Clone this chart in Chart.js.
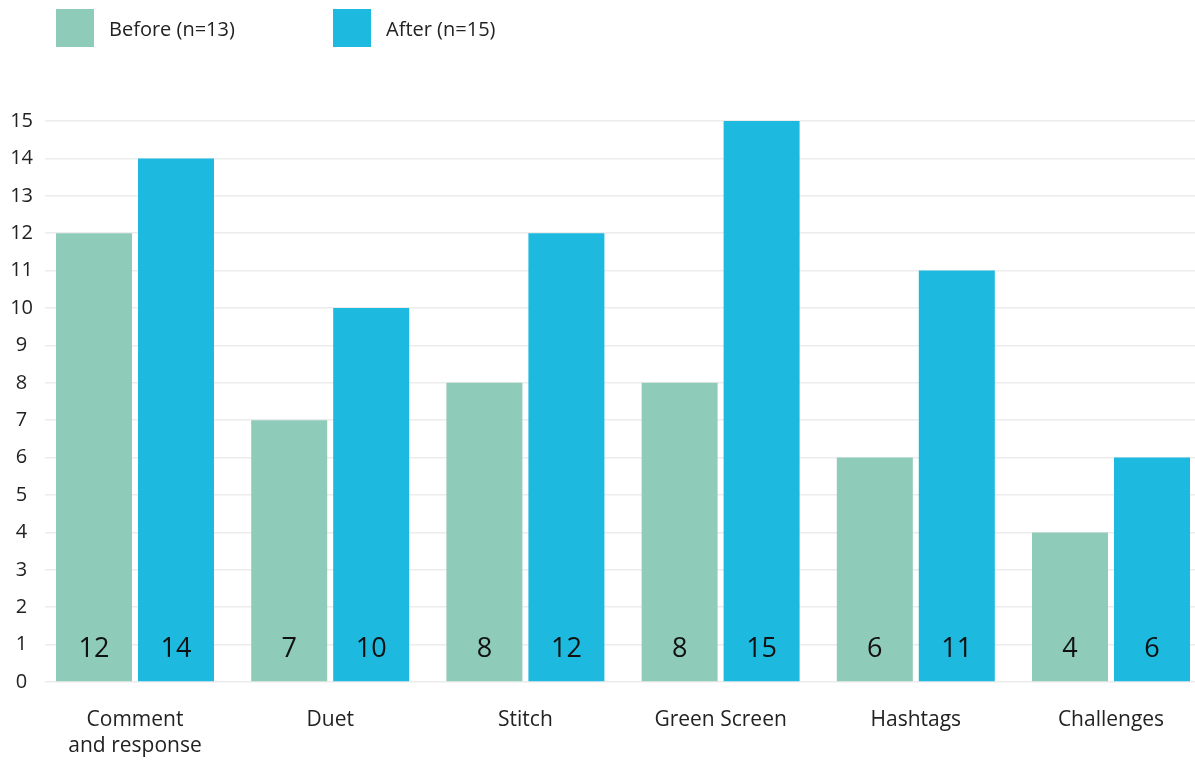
<!DOCTYPE html>
<html>
<head>
<meta charset="utf-8">
<script src="https://cdn.jsdelivr.net/npm/chart.js@4"></script>
<style>
  html, body { margin: 0; padding: 0; background: #ffffff; }
  #wrap { position: relative; width: 1195px; height: 760px; }
  #legend { position: absolute; left: 0; top: 0; width: 1195px; height: 60px; font-family: "Open Sans", sans-serif; font-size: 20px; color: #222; }
  .item { position: absolute; top: 9px; height: 38px; display: flex; align-items: center; }
  .box { width: 38px; height: 38px; margin-right: 15px; }
  canvas { position: absolute; left: 0; top: 0; }
</style>
</head>
<body>
<div id="wrap">
  <canvas id="c" width="1195" height="760"></canvas>
  <div id="legend"></div>
</div>
<script>
const categories = ["Comment\nand response", "Duet", "Stitch", "Green Screen", "Hashtags", "Challenges"];
const seriesNames = ["Before (n=13)", "After (n=15)"];
const beforeValues = [12, 7, 8, 8, 6, 4];
const afterValues = [14, 10, 12, 15, 11, 6];
const yTicks = [0, 1, 2, 3, 4, 5, 6, 7, 8, 9, 10, 11, 12, 13, 14, 15];
const colors = ["#8ecbb8", "#1db9df"];

const FONT = '"Open Sans", sans-serif';

// HTML legend built from series names / colours
const legendEl = document.getElementById('legend');
const legendLeft = [56, 333];
seriesNames.forEach((name, i) => {
  const it = document.createElement('div');
  it.className = 'item';
  it.style.left = legendLeft[i] + 'px';
  const b = document.createElement('div');
  b.className = 'box';
  b.style.background = colors[i];
  const t = document.createElement('span');
  t.textContent = name;
  it.appendChild(b); it.appendChild(t);
  legendEl.appendChild(it);
});

const valueLabels = {
  id: 'valueLabels',
  afterDatasetsDraw(chart) {
    const ctx = chart.ctx;
    ctx.save();
    ctx.font = '27px ' + FONT;
    ctx.fillStyle = '#111';
    ctx.textAlign = 'center';
    ctx.textBaseline = 'middle';
    chart.data.datasets.forEach((ds, di) => {
      const meta = chart.getDatasetMeta(di);
      meta.data.forEach((el, i) => {
        ctx.fillText(String(ds.data[i].y), el.x, el.base - 32);
      });
    });
    ctx.restore();
  }
};

new Chart(document.getElementById('c'), {
  type: 'bar',
  data: {
    datasets: [
      { label: seriesNames[0], data: beforeValues.map((v, i) => ({ x: i, y: v })), backgroundColor: colors[0], borderWidth: 0 },
      { label: seriesNames[1], data: afterValues.map((v, i) => ({ x: i, y: v })), backgroundColor: colors[1], borderWidth: 0 }
    ]
  },
  options: {
    responsive: false,
    animation: false,
    devicePixelRatio: 1,
    categoryPercentage: 0.84,
    barPercentage: 0.927,
    layout: { padding: { top: 121, right: 0, bottom: 0, left: 0 } },
    plugins: { legend: { display: false }, tooltip: { enabled: false } },
    scales: {
      x: {
        type: 'linear',
        offset: false,
        min: -0.4611,
        max: 5.4303,
        grid: { display: false, drawTicks: false },
        border: { display: false },
        afterBuildTicks: s => { s.ticks = categories.map((_, i) => ({ value: i })); },
        afterFit: s => { s.height = 78; },
        ticks: {
          autoSkip: false,
          maxRotation: 0,
          padding: 25,
          color: '#222',
          font: { family: FONT, size: 21, lineHeight: 1.25 },
          callback: v => categories[v] !== undefined ? categories[v].split('\n') : ''
        }
      },
      y: {
        min: 0,
        max: 15,
        afterBuildTicks: s => { s.ticks = yTicks.map(v => ({ value: v })); },
        afterFit: s => { s.width = 45; },
        grid: { color: '#ececec', lineWidth: 1.5, drawTicks: false },
        border: { display: false },
        ticks: {
          crossAlign: 'center',
          padding: 12,
          color: '#222',
          font: { family: FONT, size: 20 }
        }
      }
    }
  },
  plugins: [valueLabels]
});
</script>
</body>
</html>
